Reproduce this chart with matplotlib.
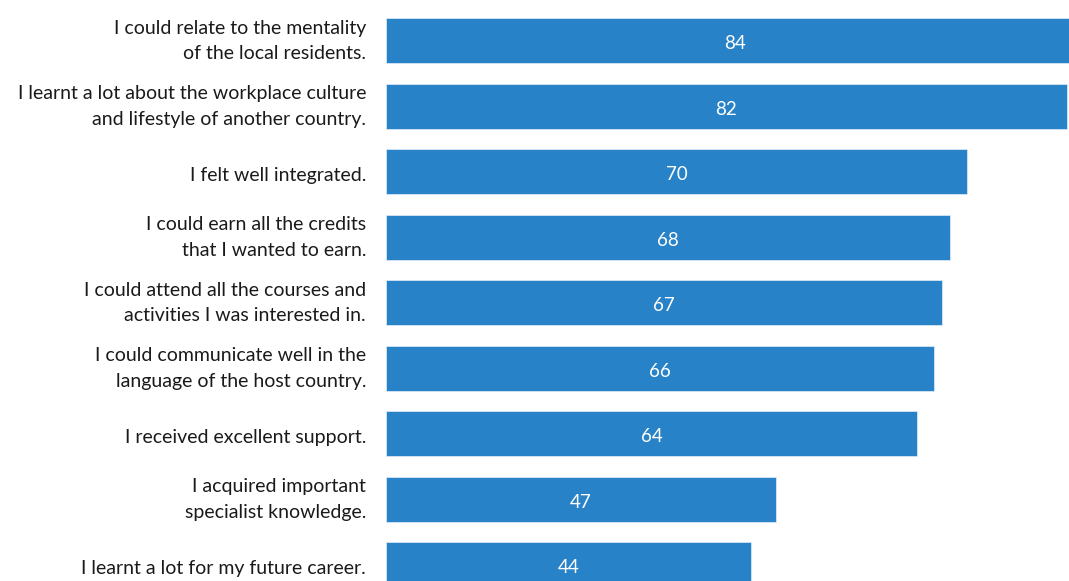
import matplotlib
matplotlib.use("Agg")
import matplotlib.pyplot as plt
from matplotlib.transforms import ScaledTranslation

statements = [
    "I could relate to the mentality\nof the local residents.",
    "I learnt a lot about the workplace culture\nand lifestyle of another country.",
    "I felt well integrated.",
    "I could earn all the credits\nthat I wanted to earn.",
    "I could attend all the courses and\nactivities I was interested in.",
    "I could communicate well in the\nlanguage of the host country.",
    "I received excellent support.",
    "I acquired important\nspecialist knowledge.",
    "I learnt a lot for my future career.",
]
scores = [84, 82, 70, 68, 67, 66, 64, 47, 44]

W, H, DPI = 1069, 581, 100
fig = plt.figure(figsize=(W / DPI, H / DPI), dpi=DPI)
left_px = 386
ax = fig.add_axes([left_px / W, 0, 1 - left_px / W, 1])

bar_color = "#2882C8"
px_per_unit = 8.3
pitch = 65.5
first_center = 40.5

y = list(range(len(scores)))
ax.barh(y, scores, height=45 / pitch, color=bar_color,
        edgecolor="#d6e6f3", linewidth=0.6)
ax.set_xlim(0, (W - left_px) / px_per_unit)
ax.set_ylim((H - first_center) / pitch, -first_center / pitch)

font = "Lato"


def px_shift(dx, dy):
    return ScaledTranslation(dx / DPI, -dy / DPI, fig.dpi_scale_trans)


# value labels inside the bars
for yi, v in zip(y, scores):
    ax.text(v / 2, yi, str(v), ha="center", va="center",
            color="white", fontsize=13.5, family=font, clip_on=False,
            transform=ax.transData + px_shift(0, 3))

# statement labels to the left of the bars
label_trans = ax.get_yaxis_transform()
for yi, s in zip(y, statements):
    dy = 3.5 if "\n" not in s else 0.5
    ax.text(0, yi, s, ha="right", va="center", multialignment="right",
            fontsize=14, family=font, color="#1a1a1a", linespacing=1.6,
            transform=label_trans + px_shift(-20, dy))

ax.set_xticks([])
ax.set_yticks([])
for s in ax.spines.values():
    s.set_visible(False)

fig.savefig("out.png", dpi=DPI)
